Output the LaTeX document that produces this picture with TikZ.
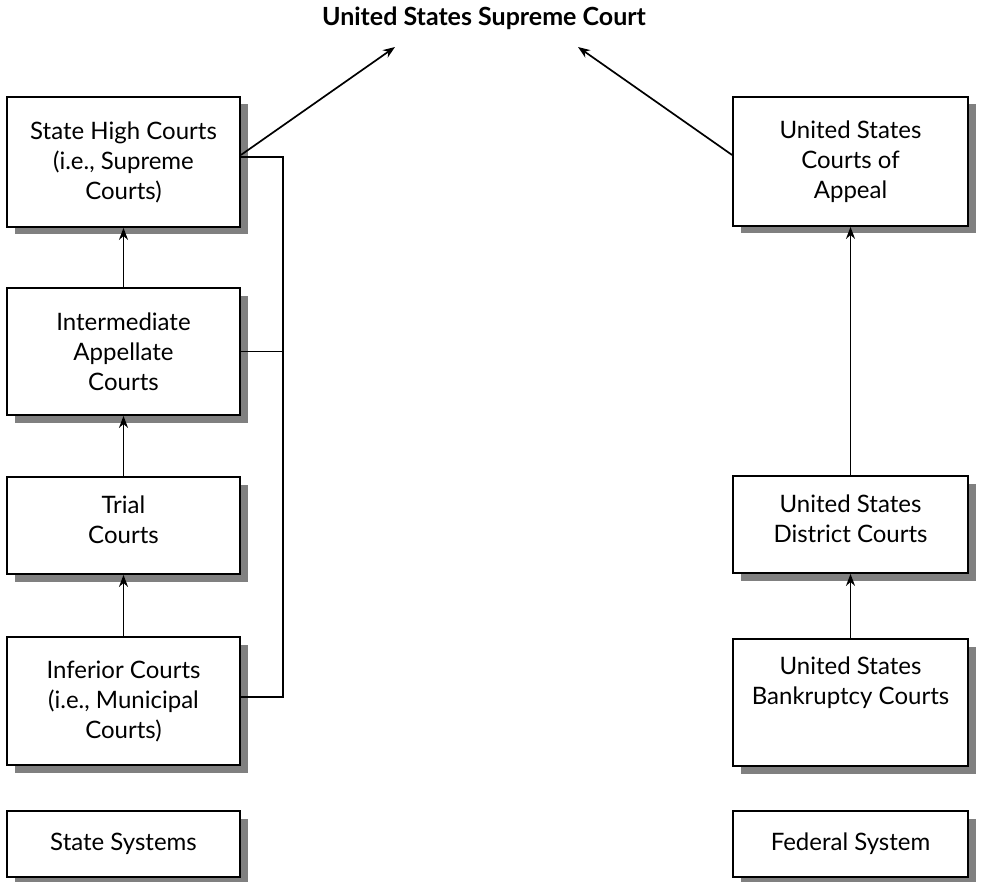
\documentclass[tikz,border=0pt]{standalone}
\usepackage{fontspec}
\setmainfont{Lato}
\usetikzlibrary{arrows.meta,shadows}
\begin{document}
\begin{tikzpicture}[x=1pt,y=-1pt,
  court/.style={draw=black, line width=1.8pt, fill=white, align=center,
    font=\fontsize{24}{30}\selectfont, inner sep=0pt,
    drop shadow={shadow xshift=7.5pt, shadow yshift=-7.5pt, fill=black!50, opacity=1}},
  link/.style={line width=1.7pt},
  up/.style={link, -{Stealth[length=12pt,width=9pt]}}]
\useasboundingbox (0,0) rectangle (981,882);

% title
\node[font=\bfseries\fontsize{25}{28}\selectfont] (usc) at (484,18) {United States Supreme Court};
\coordinate (uscL) at (395,47);
\coordinate (uscR) at (578,47);

% state system
\node[court, minimum width=233pt, minimum height=130pt] (shc) at (123.5,162) {State High Courts\\(i.e., Supreme\\Courts)};
\node[court, minimum width=233pt, minimum height=127pt] (iac) at (123.5,351.5) {Intermediate\\Appellate\\Courts};
\node[court, minimum width=233pt, minimum height=97pt] (tc) at (123.5,525.5) {Trial\\Courts\\[-18pt]};
\node[court, minimum width=233pt, minimum height=128pt] (ic) at (123.5,701) {Inferior Courts\\(i.e., Municipal\\Courts)};
\node[court, minimum width=233pt, minimum height=66pt] (ss) at (123.5,844) {State Systems};

% federal system
\node[court, minimum width=235pt, minimum height=129pt] (uca) at (850.5,161.5) {United States\\Courts of\\Appeal};
\node[court, minimum width=235pt, minimum height=97pt] (udc) at (850.5,524.5) {United States\\District Courts\\[-18pt]};
\node[court, minimum width=235pt, minimum height=127pt] (ubc) at (850.5,702.5) {United States\\Bankruptcy Courts\\[14pt]};
\node[court, minimum width=235pt, minimum height=66pt] (fs) at (850.5,844) {Federal System};

% appeals within the state system
\draw[up] (iac.north) -- (shc.south);
\draw[up] (tc.north) -- (iac.south);
\draw[up] (ic.north) -- (tc.south);
\coordinate (bus) at (283,157);
\draw[link] (shc.east |- bus) -- (bus) |- (ic.east |- 0,697);
\draw[link] (iac.east) -- (bus |- iac.east);

% appeals within the federal system
\draw[up] (udc.north) -- (uca.south);
\draw[up] (ubc.north) -- (udc.south);

% to the Supreme Court
\draw[up] (shc.east |- 0,155) -- (uscL);
\draw[up] (uca.west |- 0,155) -- (uscR);
\end{tikzpicture}
\end{document}
